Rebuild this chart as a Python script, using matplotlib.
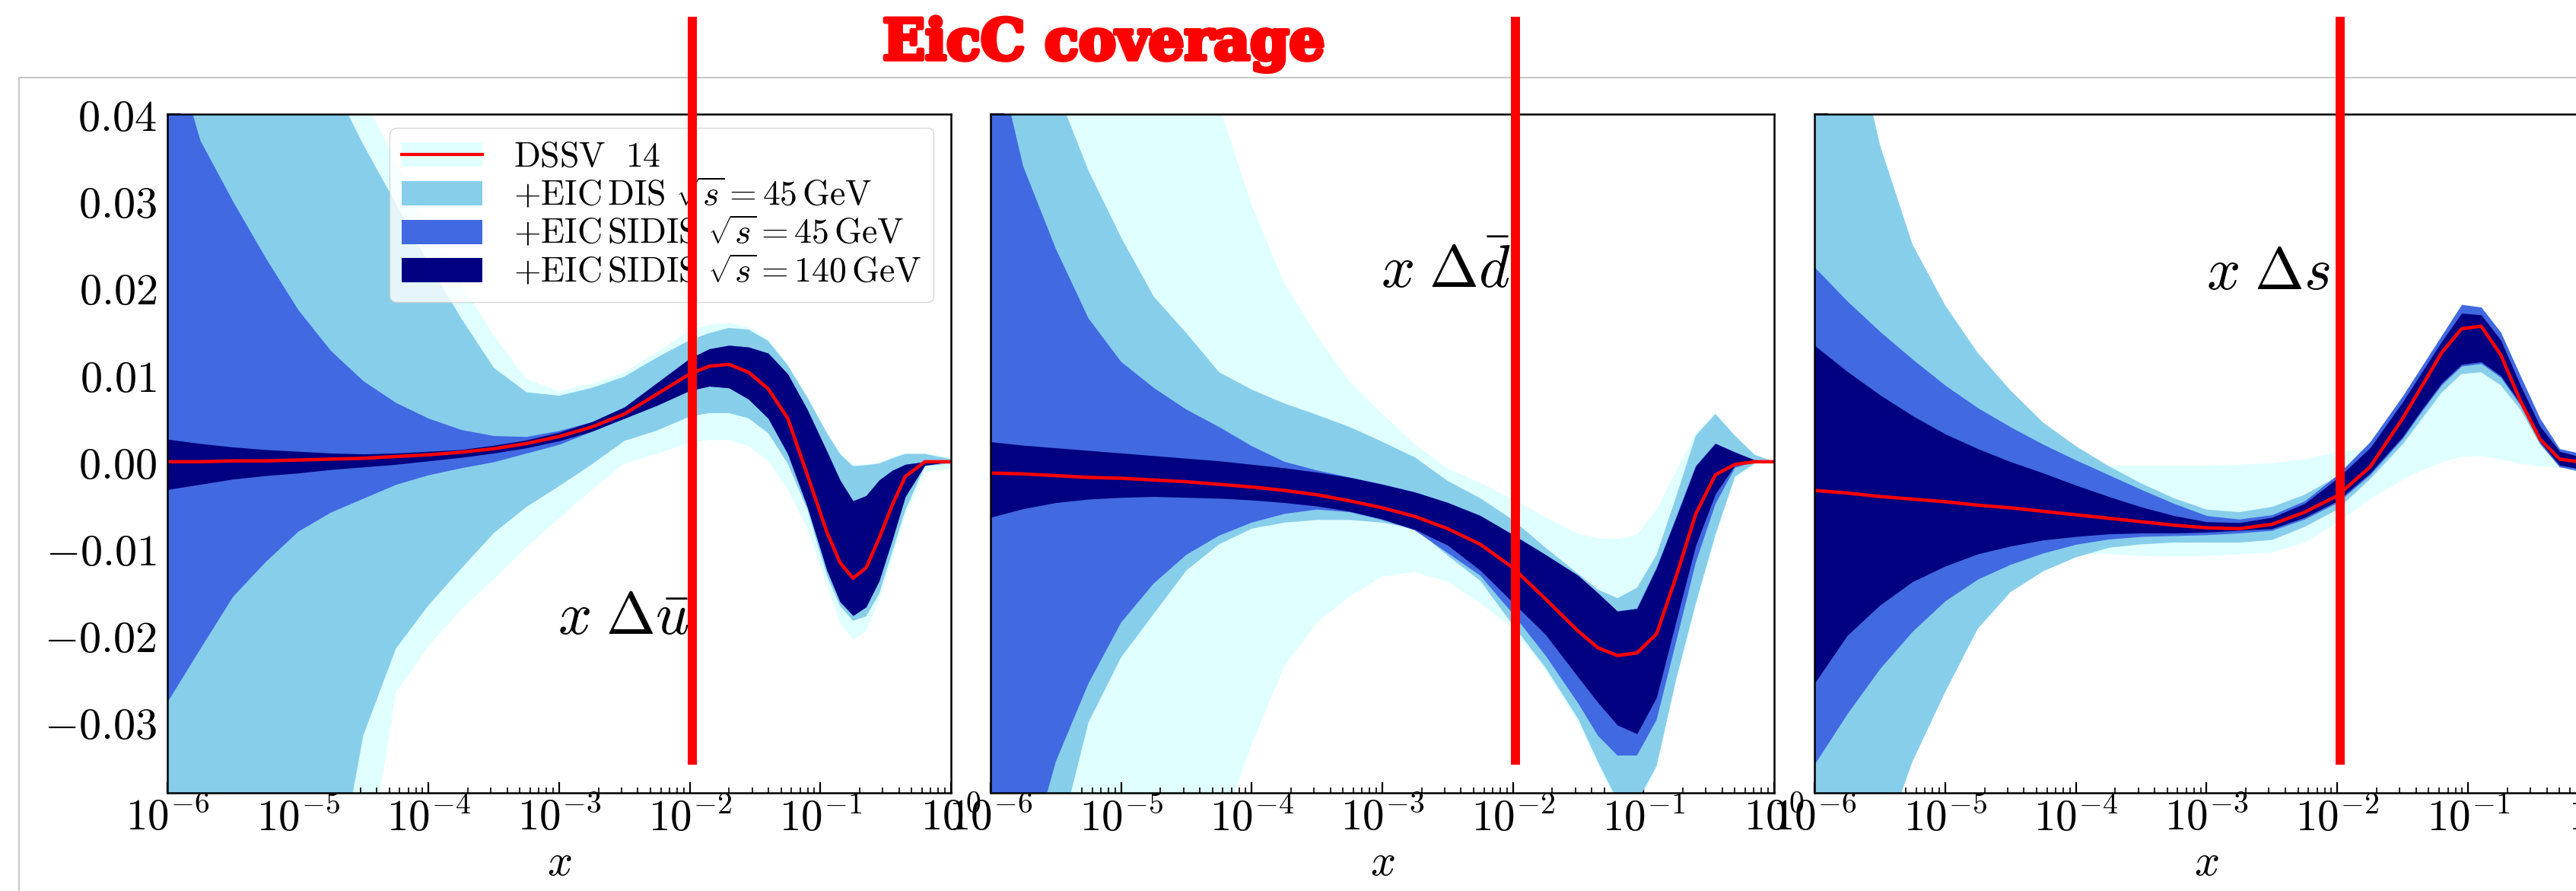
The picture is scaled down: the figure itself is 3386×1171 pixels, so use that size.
import numpy as np
import matplotlib
matplotlib.use("Agg")
import matplotlib.pyplot as plt
import matplotlib.patheffects as pe
from matplotlib.lines import Line2D
from matplotlib.patches import Patch
from matplotlib.ticker import LogLocator, FixedLocator, FuncFormatter, NullFormatter

plt.rcParams['mathtext.fontset'] = 'cm'
plt.rcParams['font.family'] = ['DejaVu Serif', 'DejaVu Sans']

# ---------------- data ----------------
TITLE = "EicC coverage"
LEGEND_LABELS = [r'$\mathrm{DSSV\ \ 14}$',
                 r'$+\mathrm{EIC\,DIS}\ \sqrt{s}=45\,\mathrm{GeV}$',
                 r'$+\mathrm{EIC\,SIDIS}\ \sqrt{s}=45\,\mathrm{GeV}$',
                 r'$+\mathrm{EIC\,SIDIS}\ \sqrt{s}=140\,\mathrm{GeV}$']
PANEL_LABELS = [r'$x\;\Delta\bar{u}$', r'$x\;\Delta\bar{d}$', r'$x\;\Delta s$']
YTICKS = [-0.03, -0.02, -0.01, 0.00, 0.01, 0.02, 0.03, 0.04]
XTICK_EXPONENTS = [-6, -5, -4, -3, -2, -1, 0]

# ---- x Delta ubar ----
logx_u = [-6, -5.75, -5.5, -5.25, -5, -4.75, -4.5, -4.25, -4, -3.75, -3.5, -3.25, -3, -2.75, -2.5, -2.25, -2,
          -1.85, -1.7, -1.55, -1.4, -1.25, -1.1, -0.95, -0.85, -0.75, -0.65, -0.55, -0.45, -0.35, -0.2, 0]
u_central = [0.0, 0.0, 0.0001, 0.0001, 0.0002, 0.0003, 0.0004, 0.0006, 0.0008, 0.0011, 0.0015, 0.0021, 0.0029, 0.0040, 0.0055, 0.0078, 0.0101,
             0.0110, 0.0112, 0.0103, 0.0084, 0.0050, -0.0015, -0.0081, -0.0116, -0.0134, -0.0122, -0.0088, -0.0050, -0.0017, 0.0, 0.0]
u_navy_hi = [0.0026, 0.0021, 0.0017, 0.0014, 0.0012, 0.0010, 0.0009, 0.0010, 0.0012, 0.0014, 0.0019, 0.0025, 0.0034, 0.0046, 0.0063, 0.0091, 0.0119,
             0.0130, 0.0134, 0.0132, 0.0125, 0.0101, 0.0060, 0.0012, -0.0021, -0.0045, -0.0039, -0.0021, -0.0010, -0.0003, 0.0, 0.0]
u_navy_lo = [-0.0032, -0.0026, -0.0020, -0.0016, -0.0013, -0.0009, -0.0006, -0.0003, 0.0001, 0.0005, 0.0010, 0.0016, 0.0024, 0.0035, 0.0050, 0.0065, 0.0082,
             0.0087, 0.0085, 0.0072, 0.0050, 0.0009, -0.0052, -0.0125, -0.0161, -0.0177, -0.0167, -0.0137, -0.0090, -0.0040, -0.0004, 0.0]
u_royal_hi = [0.050, 0.037, 0.030, 0.0235, 0.0175, 0.0128, 0.0093, 0.0068, 0.0050, 0.0037, 0.0030, 0.0029, 0.0036, 0.0046, 0.0063, 0.0091, 0.0119,
              0.0130, 0.0134, 0.0132, 0.0125, 0.0101, 0.0060, 0.0012, -0.0021, -0.0045, -0.0039, -0.0021, -0.0010, -0.0003, 0.0, 0.0]
u_royal_lo = [-0.0276, -0.0215, -0.0155, -0.0115, -0.0080, -0.0058, -0.0042, -0.0026, -0.0015, -0.0007, 0.0, 0.0010, 0.0020, 0.0035, 0.0050, 0.0065, 0.0082,
              0.0087, 0.0085, 0.0072, 0.0050, 0.0009, -0.0052, -0.0125, -0.0161, -0.0177, -0.0167, -0.0137, -0.0090, -0.0040, -0.0004, 0.0]
u_sky_hi = [0.090, 0.080, 0.070, 0.060, 0.052, 0.044, 0.0365, 0.0297, 0.0228, 0.0165, 0.0108, 0.0080, 0.0076, 0.0085, 0.0098, 0.0120, 0.0140,
            0.0148, 0.0154, 0.0152, 0.0139, 0.0111, 0.0074, 0.0033, 0.0009, -0.0005, -0.0004, -0.0002, 0.0004, 0.0009, 0.0009, 0.0003]
u_sky_lo = [-0.090, -0.080, -0.070, -0.062, -0.057, -0.052, -0.0315, -0.0215, -0.0165, -0.0123, -0.0082, -0.0052, -0.0028, -0.0003, 0.0024, 0.0036, 0.0052,
            0.0056, 0.0056, 0.0050, 0.0033, -0.0002, -0.0055, -0.0131, -0.0166, -0.0183, -0.0178, -0.0152, -0.0104, -0.0056, -0.0005, -0.0002]
u_cyan_hi = [0.100, 0.090, 0.080, 0.070, 0.060, 0.052, 0.042, 0.0345, 0.0270, 0.0205, 0.0145, 0.0095, 0.0081, 0.0090, 0.0103, 0.0126, 0.0151,
             0.0158, 0.0160, 0.0155, 0.0141, 0.0112, 0.0075, 0.0034, 0.0010, -0.0004, -0.0003, -0.0001, 0.0005, 0.0010, 0.0010, 0.0004]
u_cyan_lo = [-0.100, -0.090, -0.080, -0.070, -0.065, -0.058, -0.050, -0.0265, -0.0212, -0.0170, -0.0135, -0.0098, -0.0065, -0.0032, -0.0002, 0.0009, 0.0022,
             0.0025, 0.0025, 0.0018, 0.0001, -0.0032, -0.0077, -0.0142, -0.0185, -0.0205, -0.0195, -0.0160, -0.0110, -0.0062, -0.0012, -0.0008]

# ---- x Delta dbar ----
logx_d = [-6, -5.75, -5.5, -5.25, -5, -4.75, -4.5, -4.25, -4, -3.75, -3.5, -3.25, -3, -2.75, -2.5, -2.25, -2,
          -1.75, -1.5, -1.35, -1.2, -1.05, -0.9, -0.75, -0.6, -0.45, -0.3, -0.15, 0]
d_central = [-0.0013, -0.0014, -0.0016, -0.0018, -0.0019, -0.0021, -0.0023, -0.0026, -0.0029, -0.0033, -0.0038, -0.0045, -0.0053, -0.0063, -0.0077, -0.0095, -0.0122,
             -0.0158, -0.0195, -0.0214, -0.0223, -0.0220, -0.0198, -0.0132, -0.0060, -0.0015, -0.0003, 0.0, 0.0]
d_navy_hi = [0.0023, 0.0019, 0.0016, 0.0013, 0.0010, 0.0007, 0.0004, 0.0001, -0.0003, -0.0007, -0.0012, -0.0018, -0.0026, -0.0035, -0.0047, -0.0062, -0.0084,
             -0.0107, -0.0131, -0.0151, -0.0172, -0.0169, -0.0122, -0.0064, -0.0005, 0.0021, 0.0011, 0.0002, 0.0]
d_navy_lo = [-0.0064, -0.0054, -0.0047, -0.0043, -0.0041, -0.0040, -0.0041, -0.0042, -0.0044, -0.0047, -0.0051, -0.0057, -0.0066, -0.0078, -0.0096, -0.0125, -0.0162,
             -0.0199, -0.0248, -0.0277, -0.0303, -0.0313, -0.0271, -0.0183, -0.0096, -0.0037, -0.0004, 0.0, 0.0]
d_royal_hi = [0.050, 0.034, 0.0245, 0.0165, 0.0115, 0.0085, 0.0060, 0.0040, 0.0018, 0.0000, -0.0010, -0.0018, -0.0026, -0.0035, -0.0047, -0.0062, -0.0084,
              -0.0107, -0.0131, -0.0151, -0.0172, -0.0169, -0.0122, -0.0064, -0.0005, 0.0021, 0.0011, 0.0002, 0.0]
d_royal_lo = [-0.060, -0.048, -0.0345, -0.0255, -0.0185, -0.0140, -0.0107, -0.0085, -0.0070, -0.0060, -0.0055, -0.0058, -0.0067, -0.0079, -0.0105, -0.0131, -0.0175,
              -0.0223, -0.0278, -0.0315, -0.0338, -0.0338, -0.0297, -0.0207, -0.0116, -0.0049, -0.0007, 0.0, 0.0]
d_sky_hi = [0.090, 0.070, 0.043, 0.0335, 0.0258, 0.0190, 0.0148, 0.0103, 0.0083, 0.0067, 0.0054, 0.0040, 0.0023, 0.0005, -0.0022, -0.0042, -0.0067,
            -0.0099, -0.0129, -0.0147, -0.0157, -0.0145, -0.0107, -0.0040, 0.0030, 0.0055, 0.0030, 0.0008, 0.0]
d_sky_lo = [-0.090, -0.070, -0.045, -0.030, -0.0225, -0.0175, -0.0125, -0.0095, -0.0077, -0.0070, -0.0067, -0.0067, -0.0070, -0.0077, -0.0108, -0.0137, -0.0188,
            -0.0237, -0.0296, -0.0345, -0.0390, -0.0392, -0.0350, -0.0250, -0.0163, -0.0084, -0.0017, -0.0002, 0.0]
d_cyan_hi = [0.100, 0.090, 0.080, 0.070, 0.060, 0.052, 0.046, 0.041, 0.0295, 0.0205, 0.0145, 0.0092, 0.0055, 0.0020, -0.0008, -0.0024, -0.0043,
             -0.0064, -0.0083, -0.0088, -0.0089, -0.0084, -0.0055, -0.0011, 0.0033, 0.0057, 0.0030, 0.0009, 0.0]
d_cyan_lo = [-0.100, -0.090, -0.080, -0.070, -0.060, -0.055, -0.050, -0.043, -0.0325, -0.0235, -0.0185, -0.0155, -0.0132, -0.0127, -0.0138, -0.0163, -0.0192,
             -0.0240, -0.0300, -0.0348, -0.0393, -0.0395, -0.0353, -0.0253, -0.0166, -0.0087, -0.0019, -0.0003, 0.0]

# ---- x Delta s ----
logx_s = [-6, -5.75, -5.5, -5.25, -5, -4.75, -4.5, -4.25, -4, -3.75, -3.5, -3.25, -3, -2.75, -2.5, -2.25, -2,
          -1.75, -1.5, -1.35, -1.2, -1.05, -0.9, -0.75, -0.6, -0.45, -0.3, -0.15, 0]
s_central = [-0.0033, -0.0036, -0.0040, -0.0043, -0.0046, -0.0050, -0.0053, -0.0057, -0.0061, -0.0065, -0.0069, -0.0073, -0.0076, -0.0077, -0.0072, -0.0058, -0.0039,
             -0.0006, 0.0050, 0.0088, 0.0126, 0.0153, 0.0156, 0.0123, 0.0070, 0.0026, 0.0003, 0.0, 0.0]
s_navy_hi = [0.0134, 0.0104, 0.0077, 0.0053, 0.0032, 0.0015, 0.0, -0.0013, -0.0027, -0.0040, -0.0052, -0.0062, -0.0069, -0.0070, -0.0064, -0.0048, -0.0019,
             0.0016, 0.0069, 0.0104, 0.0139, 0.0171, 0.0169, 0.0140, 0.0088, 0.0041, 0.0012, 0.0006, 0.0005]
s_navy_lo = [-0.0255, -0.0200, -0.0165, -0.0138, -0.0120, -0.0106, -0.0097, -0.0090, -0.0086, -0.0083, -0.0082, -0.0082, -0.0081, -0.0079, -0.0077, -0.0064, -0.0045,
             -0.0013, 0.0029, 0.0061, 0.0091, 0.0112, 0.0115, 0.0099, 0.0067, 0.0023, -0.0004, -0.0008, -0.0008]
s_royal_hi = [0.0224, 0.0185, 0.0150, 0.0118, 0.0088, 0.0062, 0.0040, 0.0020, 0.0002, -0.0015, -0.0032, -0.0048, -0.0062, -0.0066, -0.0061, -0.0045, -0.0015,
              0.0023, 0.0076, 0.0111, 0.0146, 0.0181, 0.0178, 0.0149, 0.0099, 0.0050, 0.0015, 0.0010, 0.0008]
s_royal_lo = [-0.0348, -0.0290, -0.0238, -0.0195, -0.0160, -0.0135, -0.0118, -0.0105, -0.0095, -0.0089, -0.0086, -0.0085, -0.0084, -0.0082, -0.0079, -0.0066, -0.0047,
              -0.0015, 0.0027, 0.0059, 0.0089, 0.0110, 0.0113, 0.0097, 0.0065, 0.0021, -0.0006, -0.0010, -0.0010]
s_sky_hi = [0.070, 0.053, 0.0365, 0.0250, 0.0180, 0.0125, 0.0082, 0.0045, 0.0018, -0.0005, -0.0025, -0.0042, -0.0055, -0.0058, -0.0052, -0.0038, -0.0017,
            0.0016, 0.0069, 0.0104, 0.0139, 0.0171, 0.0169, 0.0140, 0.0088, 0.0041, 0.0012, 0.0006, 0.0005]
s_sky_lo = [-0.060, -0.052, -0.045, -0.0345, -0.0265, -0.0192, -0.0150, -0.0126, -0.0110, -0.0099, -0.0095, -0.0093, -0.0093, -0.0093, -0.0090, -0.0075, -0.0055,
            -0.0020, 0.0020, 0.0050, 0.0080, 0.0101, 0.0103, 0.0088, 0.0060, 0.0020, -0.0006, -0.0012, -0.0012]
s_cyan_hi = [-0.0004, -0.0004, -0.0004, -0.0004, -0.0004, -0.0004, -0.0004, -0.0004, -0.0004, -0.0004, -0.0004, -0.0004, -0.0004, -0.0003, -0.0001, 0.0003, 0.0012,
             0.0015, 0.0065, 0.0100, 0.0135, 0.0165, 0.0165, 0.0135, 0.0085, 0.0038, 0.0010, 0.0005, 0.0004]
s_cyan_lo = [-0.0105, -0.0105, -0.0105, -0.0105, -0.0105, -0.0105, -0.0105, -0.0105, -0.0105, -0.0106, -0.0108, -0.0109, -0.0108, -0.0106, -0.0104, -0.0092, -0.0070,
             -0.0042, -0.0020, -0.0009, 0.0, 0.0006, 0.0007, 0.0003, -0.0002, -0.0005, -0.0006, -0.0005, -0.0005]

# ---------------- styling ----------------
C_CYAN, C_SKY, C_ROYAL, C_NAVY, C_RED = '#E0FFFF', '#87CEEB', '#4169E1', '#000080', '#FF0000'
W, H = 3387, 1171
fig = plt.figure(figsize=(W / 100, H / 100), dpi=100)


def rect(left, top, right, bottom):
    return [left / W, 1 - bottom / H, (right - left) / W, (bottom - top) / H]


AX_TOP, AX_BOT = 150, 1042
ax_boxes = [(220, 1250), (1302, 2332), (2385, 3416)]
label_pos = [(0.97e-3, -0.0198), (0.98e-3, 0.0200), (1.0e-3, 0.0199)]
panels = [
    (logx_u, u_cyan_lo, u_cyan_hi, u_sky_lo, u_sky_hi, u_royal_lo, u_royal_hi, u_navy_lo, u_navy_hi, u_central),
    (logx_d, d_cyan_lo, d_cyan_hi, d_sky_lo, d_sky_hi, d_royal_lo, d_royal_hi, d_navy_lo, d_navy_hi, d_central),
    (logx_s, s_cyan_lo, s_cyan_hi, s_sky_lo, s_sky_hi, s_royal_lo, s_royal_hi, s_navy_lo, s_navy_hi, s_central),
]

axes = []
for i, ((l, r), p) in enumerate(zip(ax_boxes, panels)):
    ax = fig.add_axes(rect(l, AX_TOP, r, AX_BOT))
    axes.append(ax)
    x = 10.0 ** np.array(p[0])
    cols = [C_CYAN, C_SKY, C_ROYAL, C_NAVY]
    for k, c in enumerate(cols):
        ax.fill_between(x, p[1 + 2 * k], p[2 + 2 * k], color=c, lw=0, zorder=1 + k)
    ax.plot(x, p[9], color=C_RED, lw=3.2, zorder=6, solid_joinstyle='round')
    ax.text(label_pos[i][0], label_pos[i][1], PANEL_LABELS[i], fontsize=56, ha='left', va='baseline', zorder=7)

    ax.set_xscale('log')
    ax.set_xlim(1e-6, 1)
    ax.set_ylim(-0.0381, 0.0400)
    ax.xaxis.set_major_locator(FixedLocator([10.0 ** e for e in XTICK_EXPONENTS]))
    ax.xaxis.set_major_formatter(FuncFormatter(lambda v, pos: r'$10^{%d}$' % int(round(np.log10(v)))))
    ax.xaxis.set_minor_locator(LogLocator(base=10, subs=np.arange(2, 10), numticks=20))
    ax.xaxis.set_minor_formatter(NullFormatter())
    ax.yaxis.set_major_locator(FixedLocator(YTICKS))
    ax.yaxis.set_major_formatter(FuncFormatter(lambda v, pos: r'$%.2f$' % v))
    ax.tick_params(axis='x', which='major', direction='in', length=10, width=1.6, labelsize=41, pad=4,
                   top=False, bottom=True)
    ax.tick_params(axis='x', which='minor', direction='in', length=5, width=1.2, top=False)
    ax.tick_params(axis='y', which='major', direction='in', length=13, width=1.6, labelsize=42, pad=10,
                   left=True, right=False, labelleft=(i == 0))
    ax.tick_params(axis='y', which='minor', left=False, right=False)
    for sp in ax.spines.values():
        sp.set_linewidth(1.8)
        sp.set_zorder(8)
    ax.set_xlabel(r'$x$', fontsize=42, labelpad=2)

    # red EicC coverage line at x = 1e-2
    ax.plot([0.0105, 0.0105], [-0.0349, 0.0512], color=C_RED, lw=8.6, solid_capstyle='butt',
            clip_on=False, zorder=20)

# legend in first panel
handles = [(Patch(facecolor=C_CYAN, edgecolor='none'), Line2D([], [], color=C_RED, lw=3)),
           Patch(facecolor=C_SKY, edgecolor='none'),
           Patch(facecolor=C_ROYAL, edgecolor='none'),
           Patch(facecolor=C_NAVY, edgecolor='none')]
leg = axes[0].legend(handles, LEGEND_LABELS, loc='upper right', bbox_to_anchor=(0.978, 0.98),
                     borderaxespad=0, fontsize=33, handlelength=2.3, handleheight=0.7,
                     handletextpad=0.9, labelspacing=0.12, borderpad=0.35, frameon=True,
                     framealpha=0.8, edgecolor='#cccccc', fancybox=True)
leg.set_zorder(10)

# slide frame lines
fig.add_artist(Line2D([25 / W, 1.0], [1 - 102 / H, 1 - 102 / H], color='#c8c8c8', lw=1.5,
                      transform=fig.transFigure, zorder=0))
fig.add_artist(Line2D([25 / W, 25 / W], [0.0, 1 - 102 / H], color='#c8c8c8', lw=1.5,
                      transform=fig.transFigure, zorder=0))

# title
fig.text(1160 / W, 1 - 78 / H, TITLE, color=C_RED, fontsize=53, fontweight='bold',
         family=['DejaVu Serif'], ha='left', va='baseline',
         path_effects=[pe.withStroke(linewidth=4, foreground=C_RED)])

fig.savefig('out.png', dpi=100)
